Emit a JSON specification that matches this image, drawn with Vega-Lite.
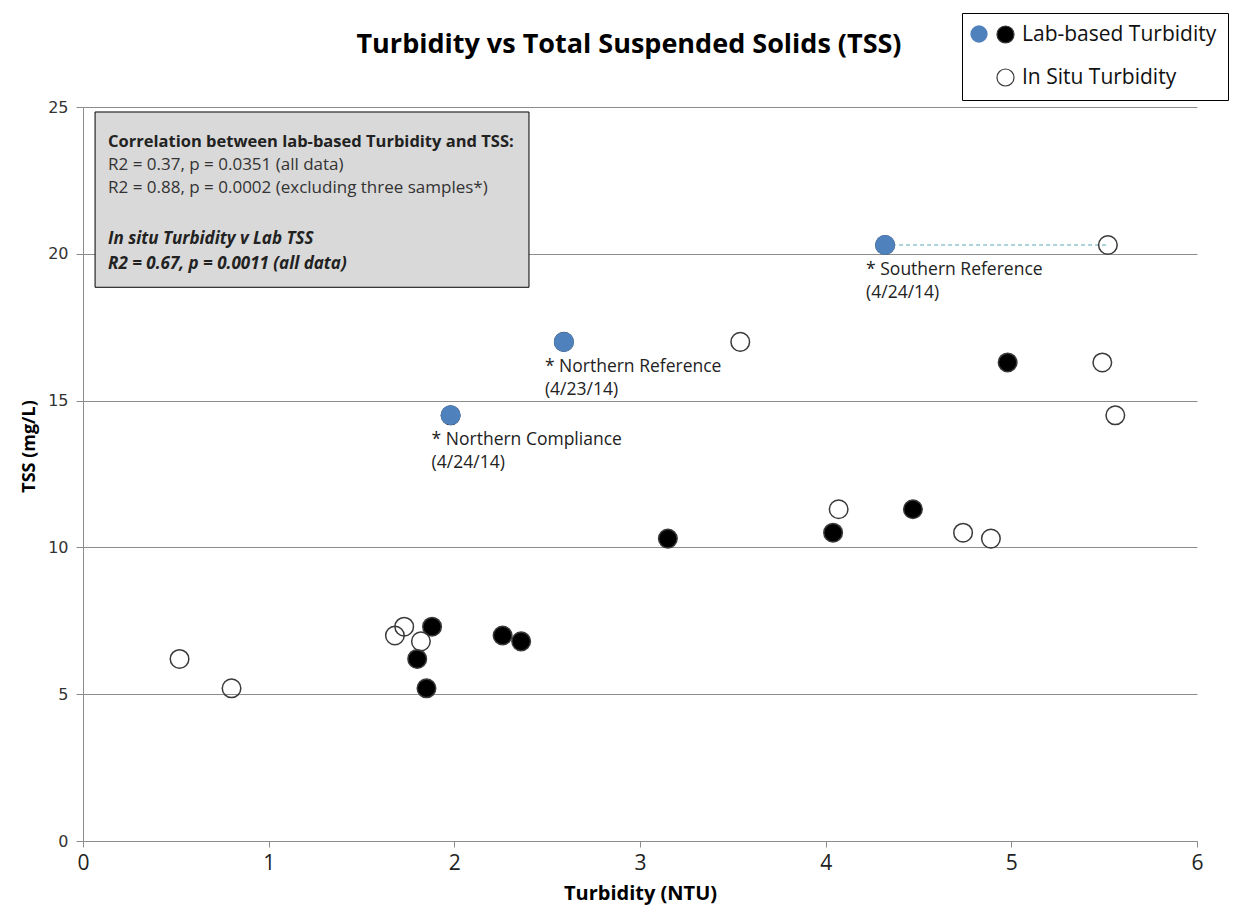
{
  "$schema": "https://vega.github.io/schema/vega-lite/v6.json",
  "autosize": "none",
  "width": 1114,
  "height": 734,
  "padding": {"left": 83, "top": 107, "right": 47, "bottom": 66},
  "background": "white",
  "title": {
    "text": "Turbidity vs Total Suspended Solids (TSS)",
    "font": "Open Sans",
    "fontSize": 27,
    "fontWeight": "bold",
    "color": "#000000",
    "anchor": "middle",
    "offset": -46,
    "dx": -11
  },
  "config": {
    "view": {"stroke": null},
    "text": {"font": "Open Sans", "color": "#222222"},
    "axisX": {
      "grid": false,
      "domainColor": "#8c8c8c",
      "tickColor": "#8c8c8c",
      "tickSize": 6,
      "labelFlush": false,
      "labelFont": "Open Sans",
      "labelFontSize": 21,
      "labelColor": "#222222",
      "labelPadding": 5,
      "titleFont": "Open Sans",
      "titleFontSize": 20,
      "titleFontWeight": "bold",
      "titleColor": "#000000",
      "titlePadding": 10
    },
    "axisY": {
      "grid": true,
      "gridColor": "#8c8c8c",
      "gridWidth": 1,
      "domainColor": "#8c8c8c",
      "tickColor": "#8c8c8c",
      "tickSize": 7,
      "labelFlush": false,
      "labelFont": "DejaVu Sans",
      "labelFontSize": 16,
      "labelColor": "#333333",
      "labelPadding": 8,
      "titleFont": "Open Sans",
      "titleFontSize": 18,
      "titleFontWeight": "bold",
      "titleColor": "#000000",
      "titlePadding": 9
    }
  },
  "datasets": {
    "samples": [
      {"lab": 1.80, "insitu": 0.52, "tss": 6.2, "excluded": false, "note": ""},
      {"lab": 1.85, "insitu": 0.80, "tss": 5.2, "excluded": false, "note": ""},
      {"lab": 2.26, "insitu": 1.68, "tss": 7.0, "excluded": false, "note": ""},
      {"lab": 1.88, "insitu": 1.73, "tss": 7.3, "excluded": false, "note": ""},
      {"lab": 2.36, "insitu": 1.82, "tss": 6.8, "excluded": false, "note": ""},
      {"lab": 3.15, "insitu": 4.89, "tss": 10.3, "excluded": false, "note": ""},
      {"lab": 4.04, "insitu": 4.74, "tss": 10.5, "excluded": false, "note": ""},
      {"lab": 4.47, "insitu": 4.07, "tss": 11.3, "excluded": false, "note": ""},
      {"lab": 4.98, "insitu": 5.49, "tss": 16.3, "excluded": false, "note": ""},
      {"lab": 4.32, "insitu": 5.52, "tss": 20.3, "excluded": true, "site": "Southern Reference", "note": "* Southern Reference\n(4/24/14)"},
      {"lab": 2.59, "insitu": 3.54, "tss": 17.0, "excluded": true, "site": "Northern Reference", "note": "* Northern Reference\n(4/23/14)"},
      {"lab": 1.98, "insitu": 5.56, "tss": 14.5, "excluded": true, "site": "Northern Compliance", "note": "* Northern Compliance\n(4/24/14)"}
    ]
  },
  "data": {"name": "samples"},
  "layer": [
    {
      "data": {"values": [{}]},
      "mark": {"type": "rect", "fill": "#D9D9D9", "stroke": "#000000", "strokeWidth": 1},
      "encoding": {
        "x": {
          "datum": 0.065,
          "type": "quantitative",
          "title": "Turbidity (NTU)",
          "scale": {"domain": [0, 6], "nice": false},
          "axis": {"values": [0, 1, 2, 3, 4, 5, 6], "format": "d"}
        },
        "x2": {"datum": 2.402},
        "y": {
          "datum": 24.83,
          "type": "quantitative",
          "title": "TSS (mg/L)",
          "scale": {"domain": [0, 25], "nice": false},
          "axis": {
            "values": [0, 5, 10, 15, 20, 25],
            "titleX": -45,
            "titleY": 339,
            "labelFontSize": 16
          }
        },
        "y2": {"datum": 18.86}
      }
    },
    {
      "data": {"values": [{}]},
      "mark": {"type": "text", "text": "Correlation between lab-based Turbidity and TSS:", "align": "left", "baseline": "middle", "fontSize": 16.5, "fontWeight": "bold"},
      "encoding": {
        "x": {"datum": 0.135, "type": "quantitative", "title": "Turbidity (NTU)"},
        "y": {"datum": 23.8, "type": "quantitative", "title": "TSS (mg/L)"}
      }
    },
    {
      "data": {"values": [{}]},
      "mark": {"type": "text", "text": "R2 = 0.37, p = 0.0351 (all data)", "align": "left", "baseline": "middle", "fontSize": 17, "color": "#333333"},
      "encoding": {
        "x": {"datum": 0.135, "type": "quantitative", "title": "Turbidity (NTU)"},
        "y": {"datum": 23.02, "type": "quantitative", "title": "TSS (mg/L)"}
      }
    },
    {
      "data": {"values": [{}]},
      "mark": {"type": "text", "text": "R2 = 0.88, p = 0.0002 (excluding three samples*)", "align": "left", "baseline": "middle", "fontSize": 17, "color": "#333333"},
      "encoding": {
        "x": {"datum": 0.135, "type": "quantitative", "title": "Turbidity (NTU)"},
        "y": {"datum": 22.24, "type": "quantitative", "title": "TSS (mg/L)"}
      }
    },
    {
      "data": {"values": [{}]},
      "mark": {"type": "text", "text": "In situ Turbidity v Lab TSS", "align": "left", "baseline": "middle", "fontSize": 17, "fontWeight": "bold", "fontStyle": "italic"},
      "encoding": {
        "x": {"datum": 0.135, "type": "quantitative", "title": "Turbidity (NTU)"},
        "y": {"datum": 20.5, "type": "quantitative", "title": "TSS (mg/L)"}
      }
    },
    {
      "data": {"values": [{}]},
      "mark": {"type": "text", "text": "R2 = 0.67, p = 0.0011 (all data)", "align": "left", "baseline": "middle", "fontSize": 17, "fontWeight": "bold", "fontStyle": "italic"},
      "encoding": {
        "x": {"datum": 0.135, "type": "quantitative", "title": "Turbidity (NTU)"},
        "y": {"datum": 19.66, "type": "quantitative", "title": "TSS (mg/L)"}
      }
    },
    {
      "transform": [{"filter": "datum.site === 'Southern Reference'"}],
      "mark": {"type": "rule", "stroke": "#5aa9b5", "strokeWidth": 1, "strokeDash": [4, 3]},
      "encoding": {
        "x": {"field": "lab", "type": "quantitative", "title": "Turbidity (NTU)"},
        "x2": {"field": "insitu"},
        "y": {"field": "tss", "type": "quantitative", "title": "TSS (mg/L)"}
      }
    },
    {
      "transform": [{"fold": ["lab", "insitu"], "as": ["series", "turbidity"]}],
      "mark": {"type": "point", "filled": true, "size": 345, "stroke": "#3a3a3a", "strokeWidth": 1.5, "opacity": 1},
      "encoding": {
        "x": {"field": "turbidity", "type": "quantitative", "title": "Turbidity (NTU)"},
        "y": {"field": "tss", "type": "quantitative", "title": "TSS (mg/L)"},
        "fill": {
          "field": "series",
          "type": "nominal",
          "scale": {"domain": ["lab", "insitu"], "range": ["#000000", "transparent"]},
          "legend": {
            "title": null,
            "orient": "none",
            "legendX": 879,
            "legendY": -94,
            "direction": "vertical",
            "padding": 11,
            "strokeColor": "#000000",
            "fillColor": null,
            "labelExpr": "datum.label === 'lab' ? 'Lab-based Turbidity' : 'In Situ Turbidity'",
            "labelFont": "Open Sans",
            "labelFontSize": 21,
            "labelColor": "#111111",
            "labelOffset": 6,
            "labelLimit": 400,
            "rowPadding": 20,
            "symbolType": "circle",
            "symbolSize": 290,
            "symbolOffset": 22,
            "symbolStrokeColor": "#3a3a3a",
            "symbolStrokeWidth": 1.2
          }
        }
      }
    },
    {
      "transform": [{"filter": "datum.excluded"}],
      "mark": {"type": "point", "filled": true, "size": 400, "color": "#4F81BD", "opacity": 1},
      "encoding": {
        "x": {"field": "lab", "type": "quantitative", "title": "Turbidity (NTU)"},
        "y": {"field": "tss", "type": "quantitative", "title": "TSS (mg/L)"},
        "shape": {
          "field": "excluded",
          "type": "nominal",
          "scale": {"range": ["circle"]},
          "legend": {
            "title": null,
            "orient": "none",
            "legendX": 887,
            "legendY": -82,
            "padding": 0,
            "labelExpr": "''",
            "labelFontSize": 1,
            "labelOffset": 0,
            "symbolSize": 300,
            "symbolFillColor": "#4F81BD",
            "symbolStrokeColor": "#4F81BD",
            "symbolStrokeWidth": 0,
            "symbolOpacity": 1
          }
        }
      }
    },
    {
      "transform": [{"filter": "datum.excluded"}],
      "mark": {"type": "text", "align": "left", "baseline": "top", "dx": -19, "dy": 16, "fontSize": 17.5, "lineHeight": 23, "lineBreak": "\n", "color": "#222222"},
      "encoding": {
        "x": {"field": "lab", "type": "quantitative", "title": "Turbidity (NTU)"},
        "y": {"field": "tss", "type": "quantitative", "title": "TSS (mg/L)"},
        "text": {"field": "note"}
      }
    }
  ]
}
